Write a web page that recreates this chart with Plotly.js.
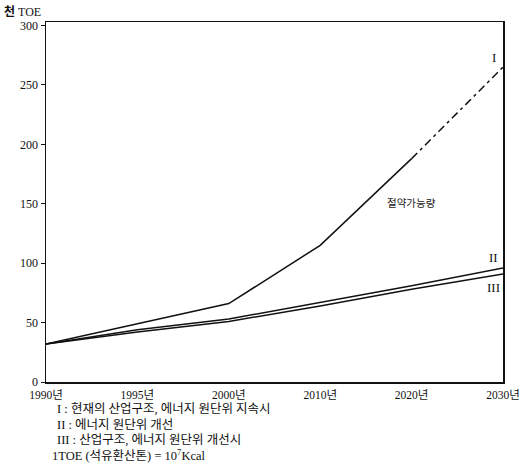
<!DOCTYPE html>
<html>
<head>
<meta charset="utf-8">
<script src="https://cdn.plot.ly/plotly-3.0.1.min.js"></script>
<style>html,body{margin:0;padding:0;background:#fff;}#chart{width:521px;height:471px;}</style>
</head>
<body>
<div id="chart"></div>
<script>
const years = ["1990년", "1995년", "2000년", "2010년", "2020년", "2030년"];
const seriesI = [32, 49, 66, 115, 188, 265];
const seriesII = [32, 44, 53, 67, 81, 96];
const seriesIII = [32, 42, 51, 64, 78, 91];
const yTicks = [0, 50, 100, 150, 200, 250, 300];
const seriesLabels = ["I", "II", "III"];
const footnotes = [
  "I : 현재의 산업구조, 에너지 원단위 지속시",
  "II : 에너지 원단위 개선",
  "III : 산업구조, 에너지 원단위 개선시",
  "1TOE (석유환산톤) = 10<sup>7</sup>Kcal"
];

const serif = "Liberation Serif, Noto Sans CJK KR, serif";
const lineStyle = {color: "#111", width: 1.5};

const traces = [
  {x: years.slice(0, 5), y: seriesI.slice(0, 5), mode: "lines", line: lineStyle, hoverinfo: "skip"},
  {x: years.slice(4), y: seriesI.slice(4), mode: "lines", line: {color: "#111", width: 1.5, dash: "8px,4px,3px,4px"}, hoverinfo: "skip"},
  {x: years, y: seriesII, mode: "lines", line: lineStyle, hoverinfo: "skip"},
  {x: years, y: seriesIII, mode: "lines", line: lineStyle, hoverinfo: "skip"}
];

const L = 46, R = 503, T = 22, B = 382;
function px(x) { return (x - L) / (R - L); }
function py(y) { return (B - y) / (B - T); }

const annotations = [
  {text: "<b>천</b> TOE", xref: "paper", yref: "paper", x: px(2), y: py(12), xanchor: "left", yanchor: "middle", showarrow: false, font: {family: serif, size: 12, color: "#111"}},
  {text: seriesLabels[0], xref: "paper", yref: "paper", x: px(494), y: py(58), xanchor: "center", yanchor: "middle", showarrow: false, font: {family: serif, size: 13, color: "#111"}},
  {text: seriesLabels[1], xref: "paper", yref: "paper", x: px(493), y: py(257), xanchor: "center", yanchor: "middle", showarrow: false, font: {family: serif, size: 13, color: "#111"}},
  {text: seriesLabels[2], xref: "paper", yref: "paper", x: px(493), y: py(287), xanchor: "center", yanchor: "middle", showarrow: false, font: {family: serif, size: 13, color: "#111"}},
  {text: "절약가능량", xref: "paper", yref: "paper", x: px(411), y: py(202), xanchor: "center", yanchor: "middle", showarrow: false, font: {family: "Noto Sans CJK KR, sans-serif", size: 10.5, color: "#222"}}
];
const fnY = [409, 425, 440, 455];
const fnX = [55, 55, 55, 50];
footnotes.forEach((t, i) => {
  annotations.push({text: t, xref: "paper", yref: "paper", x: px(fnX[i]), y: py(fnY[i]), xanchor: "left", yanchor: "middle", showarrow: false, font: {family: serif, size: 12.5, color: "#111"}});
});

const layout = {
  width: 521, height: 471,
  margin: {l: L, r: 521 - R, t: T, b: 471 - B, pad: 0},
  paper_bgcolor: "#fff", plot_bgcolor: "#fff",
  showlegend: false,
  font: {family: serif, color: "#111", size: 12},
  xaxis: {
    type: "category", categoryorder: "array", categoryarray: years,
    range: [0, 5], showgrid: false, zeroline: false,
    showline: true, mirror: true, linecolor: "#111", linewidth: 1.5,
    ticks: "", ticklabelstandoff: 2, tickfont: {family: serif, size: 11.5, color: "#111"}
  },
  yaxis: {
    range: [0, 303], tickvals: yTicks, ticktext: yTicks.map(String),
    showgrid: false, zeroline: false,
    showline: true, mirror: true, linecolor: "#111", linewidth: 1.5,
    ticks: "outside", ticklen: 4, tickcolor: "#111", tickwidth: 1,
    tickfont: {family: serif, size: 12, color: "#111"}
  },
  annotations: annotations
};

Plotly.newPlot("chart", traces, layout, {displayModeBar: false, staticPlot: true});
</script>
</body>
</html>
